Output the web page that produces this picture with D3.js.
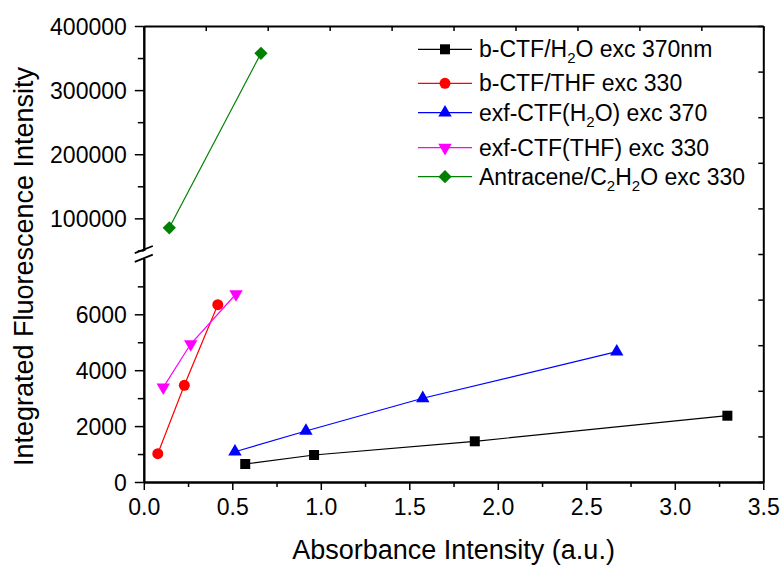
<!DOCTYPE html>
<html>
<head>
<meta charset="utf-8">
<script src="https://d3js.org/d3.v7.min.js"></script>
<style>
  body { margin: 0; background: #fff; }
  svg text { font-family: "Liberation Sans", Arial, sans-serif; }
  .axis path, .axis line { stroke: #000; }
  .axis text { font-size: 23px; fill: #000; font-family: "Liberation Sans", Arial, sans-serif; }
</style>
</head>
<body>
<svg width="783" height="565"></svg>
<script>
// data
var bctfH2oX = [0.573, 0.962, 1.870, 3.297];
var bctfH2oY = [644, 966, 1456, 2372];
var bctfThfX = [0.079, 0.229, 0.418];
var bctfThfY = [1012, 3460, 6343];
var exfH2oX = [0.515, 0.916, 1.576, 2.672];
var exfH2oY = [1084, 1825, 2995, 4662];
var exfThfX = [0.110, 0.265, 0.521];
var exfThfY = [3388, 4937, 6726];
var antraX = [0.144, 0.662];
var antraY = [85300, 357400];

var xTicks = [0, 0.5, 1.0, 1.5, 2.0, 2.5, 3.0, 3.5];
var yLowTicks = [0, 2000, 4000, 6000];
var yHighTicks = [100000, 200000, 300000, 400000];

var legendLabels = [
  [["b-CTF/H", 0], ["2", 1], ["O exc 370nm", 0]],
  [["b-CTF/THF exc 330", 0]],
  [["exf-CTF(H", 0], ["2", 1], ["O) exc 370", 0]],
  [["exf-CTF(THF) exc 330", 0]],
  [["Antracene/C", 0], ["2", 1], ["H", 0], ["2", 1], ["O exc 330", 0]]
];
var colors = ["#000000", "#ff0000", "#0000ff", "#ff00ff", "#008000"];
var shapes = ["square", "circle", "up", "down", "diamond"];

var series = [
  {xs: bctfH2oX, ys: bctfH2oY},
  {xs: bctfThfX, ys: bctfThfY},
  {xs: exfH2oX, ys: exfH2oY},
  {xs: exfThfX, ys: exfThfY},
  {xs: antraX, ys: antraY}
];

var svg = d3.select("svg");
var mLeft = 143.8, mRight = 763.3, mTop = 26, mBottom = 482;

var x = d3.scaleLinear().domain([0, 3.5]).range([mLeft, mRight]);
var yLow = d3.scaleLinear().domain([0, 8000]).range([mBottom, 258.4]);
var yHigh = d3.scaleLinear().domain([50000, 400000]).range([250.4, mTop]);
function y(v) { return v > 8000 ? yHigh(v) : yLow(v); }

// axes
var gx = svg.append("g").attr("class", "axis").attr("transform", "translate(0," + mBottom + ")");
gx.call(d3.axisBottom(x).tickValues(xTicks).tickSize(8).tickSizeOuter(0).tickPadding(9).tickFormat(d3.format(".1f")));
svg.append("g").attr("class", "axis").attr("transform", "translate(0," + mBottom + ")")
  .call(d3.axisBottom(x).tickValues([0.25, 0.75, 1.25, 1.75, 2.25, 2.75, 3.25]).tickSize(5).tickSizeOuter(0).tickFormat(""));

// mirror axes on top and right (10 divisions each, inward ticks)
var xTop = d3.scaleLinear().domain([0, 10]).range([mLeft, mRight]);
var yRight = d3.scaleLinear().domain([0, 10]).range([mBottom, mTop]);
svg.append("g").attr("class", "axis").attr("transform", "translate(0," + mTop + ")")
  .call(d3.axisTop(xTop).ticks(10).tickSize(-5).tickSizeOuter(0).tickFormat(""));
svg.append("g").attr("class", "axis").attr("transform", "translate(" + mRight + ",0)")
  .call(d3.axisRight(yRight).ticks(10).tickSize(-5).tickSizeOuter(0).tickFormat(""));

var gl = svg.append("g").attr("class", "axis").attr("transform", "translate(" + mLeft + ",0)");
gl.call(d3.axisLeft(yLow).tickValues(yLowTicks).tickSize(9).tickSizeOuter(0).tickPadding(8).tickFormat(d3.format("d")));
svg.append("g").attr("class", "axis").attr("transform", "translate(" + mLeft + ",0)")
  .call(d3.axisLeft(yLow).tickValues([1000, 3000, 5000, 7000]).tickSize(6).tickSizeOuter(0).tickFormat(""));
var gh = svg.append("g").attr("class", "axis").attr("transform", "translate(" + mLeft + ",0)");
gh.call(d3.axisLeft(yHigh).tickValues(yHighTicks).tickSize(9).tickSizeOuter(0).tickPadding(8).tickFormat(d3.format("d")));
svg.append("g").attr("class", "axis").attr("transform", "translate(" + mLeft + ",0)")
  .call(d3.axisLeft(yHigh).tickValues([50000, 150000, 250000, 350000]).tickSize(6).tickSizeOuter(0).tickFormat(""));

svg.selectAll(".axis path").attr("stroke-width", 2);
svg.selectAll(".axis line").attr("stroke-width", 1.5);
svg.selectAll(".axis text").attr("dy", null);
gl.selectAll("text").attr("dy", "0.35em");
gh.selectAll("text").attr("dy", "0.35em");
gx.selectAll("text").attr("dy", "0.71em");

// break marks
[249.6, 258.2].forEach(function(c) {
  svg.append("line")
    .attr("x1", mLeft - 9).attr("y1", c + 3.6)
    .attr("x2", mLeft + 9).attr("y2", c - 3.6)
    .attr("stroke", "#000").attr("stroke-width", 1.8);
});

// axis titles
svg.append("text")
  .attr("x", (mLeft + mRight) / 2).attr("y", 559)
  .attr("text-anchor", "middle").attr("font-size", 27)
  .text("Absorbance Intensity (a.u.)");
svg.append("text")
  .attr("transform", "translate(33,266.5) rotate(-90)")
  .attr("text-anchor", "middle").attr("font-size", 27)
  .text("Integrated Fluorescence Intensity");

function symbolFor(shape) {
  if (shape === "square") return d3.symbol(d3.symbolSquare, 100);
  if (shape === "circle") return d3.symbol(d3.symbolCircle, 95);
  if (shape === "diamond") return d3.symbol(d3.symbolSquare, 88);
  return d3.symbol(d3.symbolTriangle, 78);
}
function rotFor(shape) {
  return shape === "down" ? 180 : (shape === "diamond" ? 45 : 0);
}

var line = d3.line().x(function(d) { return x(d[0]); }).y(function(d) { return y(d[1]); });

series.forEach(function(s, i) {
  var pts = s.xs.map(function(v, j) { return [v, s.ys[j]]; });
  svg.append("path").datum(pts).attr("d", line)
    .attr("fill", "none").attr("stroke", colors[i]).attr("stroke-width", 1.2);
  svg.selectAll(null).data(pts).enter().append("path")
    .attr("d", symbolFor(shapes[i]))
    .attr("fill", colors[i])
    .attr("transform", function(d) { return "translate(" + x(d[0]) + "," + y(d[1]) + ") rotate(" + rotFor(shapes[i]) + ")"; });
});

// legend
var legendY = [49.3, 83.3, 112.7, 147.7, 176.7];
series.forEach(function(s, i) {
  var g = svg.append("g").attr("transform", "translate(0," + legendY[i] + ")");
  g.append("line").attr("x1", 418).attr("x2", 472).attr("stroke", colors[i]).attr("stroke-width", 1.2);
  g.append("path").attr("d", symbolFor(shapes[i])).attr("fill", colors[i])
    .attr("transform", "translate(445,0) rotate(" + rotFor(shapes[i]) + ")");
  var t = g.append("text").attr("x", 479).attr("y", 8).attr("font-size", 23);
  legendLabels[i].forEach(function(part, k) {
    var ts = t.append("tspan").text(part[0]);
    if (part[1]) ts.attr("font-size", 15).attr("dy", 6);
    else if (k > 0) ts.attr("dy", -6);
  });
});
</script>
</body>
</html>
